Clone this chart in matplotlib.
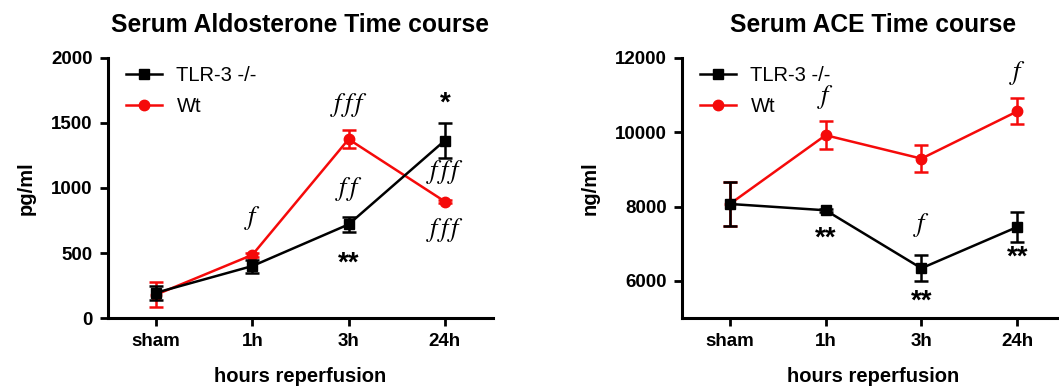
import matplotlib
matplotlib.use('Agg')
from matplotlib import pyplot as plt
from matplotlib.lines import Line2D

plt.rcParams['font.family'] = ['Liberation Sans', 'DejaVu Sans']
plt.rcParams['mathtext.fontset'] = 'stix'

categories = ['sham', '1h', '3h', '24h']

# Serum aldosterone (pg/ml)
aldo_ko = [195, 400, 720, 1365]
aldo_ko_err = [55, 50, 60, 135]
aldo_wt = [180, 486, 1375, 896]
aldo_wt_err = [95, 15, 70, 10]

# Serum ACE (ng/ml)
ace_ko = [8070, 7900, 6340, 7450]
ace_ko_err = [600, 40, 350, 410]
ace_wt = [8070, 9920, 9290, 10560]
ace_wt_err = [600, 380, 370, 350]

# annotations: (category index, y, text, kind)
aldo_notes = [(1, 770, 'f', 'f'), (2, 1640, 'fff', 'f'), (2, 990, 'ff', 'f'),
              (2, 420, '**', 's'), (3, 1650, '*', 's'), (3, 1120, 'fff', 'f'),
              (3, 680, 'fff', 'f')]
ace_notes = [(1, 10950, 'f', 'f'), (3, 11600, 'f', 'f'), (2, 7500, 'f', 'f'),
             (1, 7130, '**', 's'), (2, 5450, '**', 's'), (3, 6630, '**', 's')]

RED = '#f50a0a'

fig = plt.figure(figsize=(10.59, 3.86), dpi=100)
ax1 = fig.add_axes([0.102, 0.176, 0.3635, 0.674])
ax2 = fig.add_axes([0.644, 0.176, 0.3617, 0.674])


def draw(ax, ko, ko_err, wt, wt_err, notes, title, ylabel, ylim, yticks):
    x = list(range(len(categories)))
    ax.errorbar(x, wt, yerr=wt_err, color=RED, marker='o', markersize=7.5,
                lw=1.8, elinewidth=1.8, capsize=5, capthick=1.8, zorder=2)
    ax.errorbar(x, ko, yerr=ko_err, color='black', marker='s', markersize=7.2,
                lw=1.8, elinewidth=1.8, capsize=5, capthick=1.8, zorder=3)
    for i, y, txt, kind in notes:
        if kind == 'f':
            ax.text(i, y, '$' + r'\,'.join(txt) + '$', ha='center', va='center',
                    fontsize=19)
        else:
            ax.text(i, y, txt, ha='center', va='center', fontsize=20,
                    fontweight='bold')
    ax.set_xlim(-0.5, 3.5)
    ax.set_ylim(*ylim)
    ax.set_yticks(yticks)
    ax.set_xticks(x)
    ax.set_xticklabels(categories)
    for s in ['top', 'right']:
        ax.spines[s].set_visible(False)
    for s in ['left', 'bottom']:
        ax.spines[s].set_linewidth(2.2)
    ax.tick_params(width=2, length=6, labelsize=13.5, pad=5)
    for lab in ax.get_xticklabels() + ax.get_yticklabels():
        lab.set_fontweight('bold')
    ax.set_title(title, fontsize=17.7, fontweight='bold', pad=19)
    ax.set_xlabel('hours reperfusion', fontsize=14.5, fontweight='bold', labelpad=12)
    ax.set_ylabel(ylabel, fontsize=14.5, fontweight='bold', labelpad=11)
    handles = [Line2D([], [], color='black', marker='s', markersize=7.2, lw=1.8),
               Line2D([], [], color=RED, marker='o', markersize=7.5, lw=1.8)]
    ax.legend(handles, ['TLR-3 -/-', 'Wt'], loc='upper left',
              bbox_to_anchor=(0.0, 1.04), frameon=False, fontsize=14.5,
              handlelength=1.8, handletextpad=0.7, labelspacing=0.6)


draw(ax1, aldo_ko, aldo_ko_err, aldo_wt, aldo_wt_err, aldo_notes,
     'Serum Aldosterone Time course', 'pg/ml', (0, 2000), [0, 500, 1000, 1500, 2000])
draw(ax2, ace_ko, ace_ko_err, ace_wt, ace_wt_err, ace_notes,
     'Serum ACE Time course', 'ng/ml', (5000, 12000), [6000, 8000, 10000, 12000])

fig.savefig('out.png', dpi=100)
